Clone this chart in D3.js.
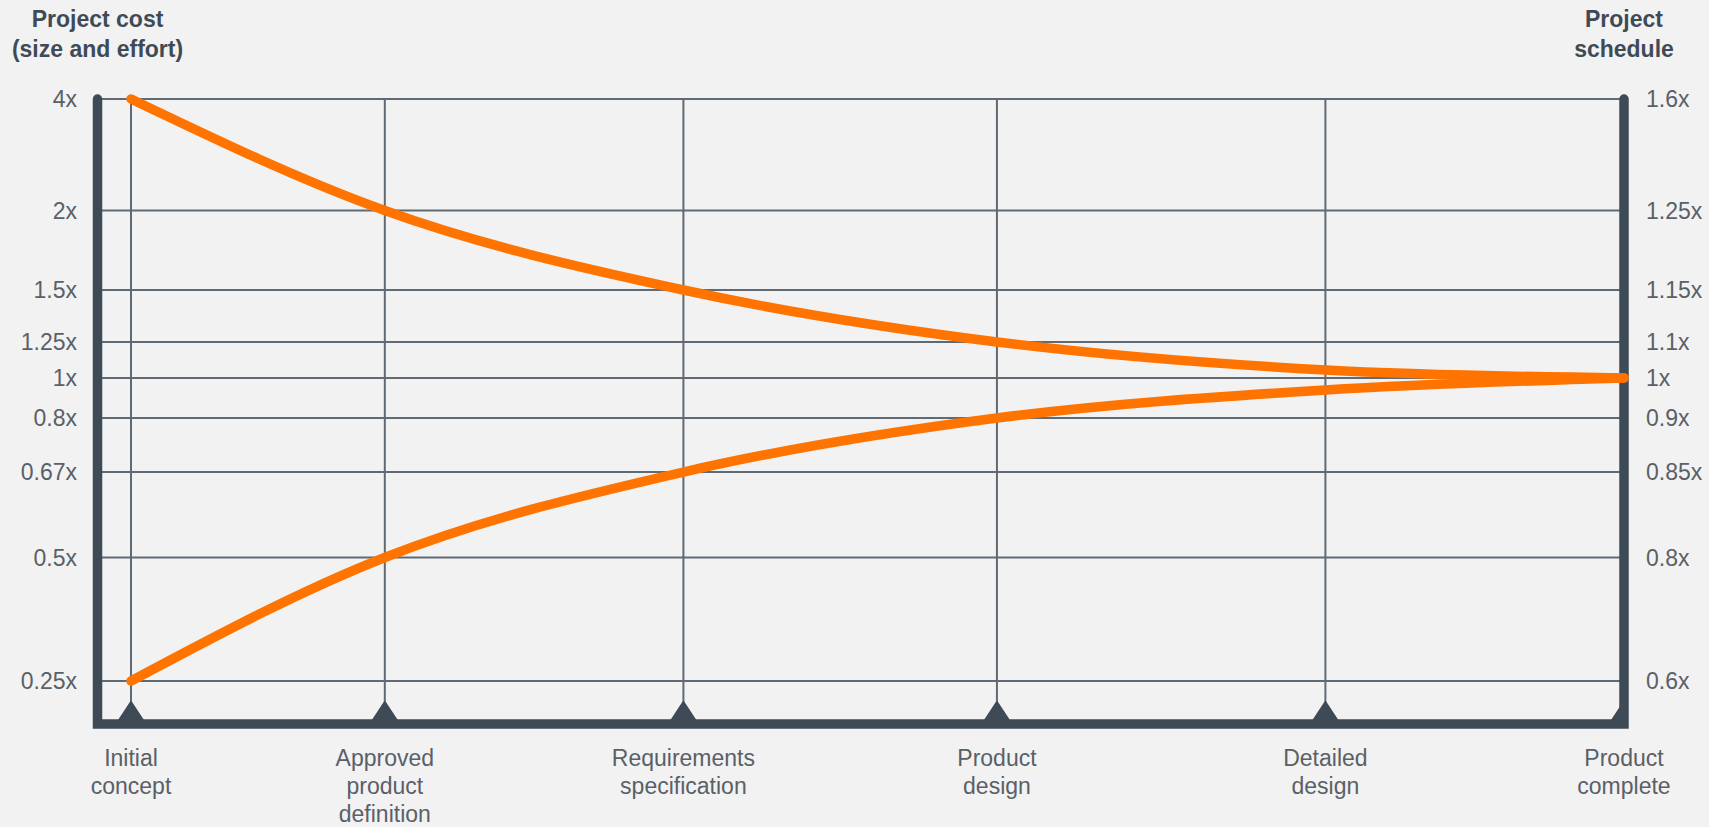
<!DOCTYPE html>
<html>
<head>
<meta charset="utf-8">
<script src="https://cdn.jsdelivr.net/npm/d3@7"></script>
<style>
  html, body { margin: 0; padding: 0; background: #f2f2f2; }
  svg { display: block; }
  text { font-family: "Liberation Sans", Arial, Helvetica, sans-serif; }
</style>
</head>
<body>
<svg width="1709" height="827"></svg>
<script>
// data
const milestones = [
  ["Initial", "concept"],
  ["Approved", "product", "definition"],
  ["Requirements", "specification"],
  ["Product", "design"],
  ["Detailed", "design"],
  ["Product", "complete"]
];
const milestoneTime = [0, 17, 37, 58, 80, 100]; // % of project timeline
const costTicks = [4, 2, 1.5, 1.25, 1, 0.8, 0.67, 0.5, 0.25];
const costTickLabels = ["4x", "2x", "1.5x", "1.25x", "1x", "0.8x", "0.67x", "0.5x", "0.25x"];
const scheduleTickLabels = ["1.6x", "1.25x", "1.15x", "1.1x", "1x", "0.9x", "0.85x", "0.8x", "0.6x"];
const upperBound = [4, 2, 1.5, 1.25, 1.056, 1];
const lowerBound = [0.25, 0.5, 0.67, 0.8, 0.94, 1];

// layout
const AXIS_LEFT = 97.5;
const AXIS_RIGHT = 1624;
const FIRST_X = 131;
const GRID_TOP = 99;
const GRID_BOTTOM = 681;
const BASE_Y = 724;
// the chart's rows are hand spaced, fraction of the grid height from the top
const ROW_OFFSETS = [0, 0.1916, 0.3282, 0.4175, 0.4794, 0.5481, 0.6409, 0.7878, 1];

const AXIS_COLOR = "#3e4b57";
const GRID_COLOR = "#5f6a74";
const TEXT_COLOR = "#5a6067";
const ORANGE = "#ff7300";

const svg = d3.select("svg");

const x = d3.scaleLinear().domain([0, 100]).range([FIRST_X, AXIS_RIGHT]);
const y = d3.scaleLinear()
  .domain(costTicks)
  .range(ROW_OFFSETS.map(f => GRID_TOP + f * (GRID_BOTTOM - GRID_TOP)));

// keep the markers inside the frame (the last one hides behind the right axis)
svg.append("defs")
  .append("clipPath")
  .attr("id", "inside")
  .append("rect")
  .attr("x", AXIS_LEFT)
  .attr("y", 0)
  .attr("width", AXIS_RIGHT - AXIS_LEFT)
  .attr("height", BASE_Y);

// horizontal grid
svg.append("g")
  .selectAll("line")
  .data(costTicks)
  .join("line")
  .attr("x1", AXIS_LEFT)
  .attr("x2", AXIS_RIGHT)
  .attr("y1", d => y(d))
  .attr("y2", d => y(d))
  .attr("stroke", GRID_COLOR)
  .attr("stroke-width", 2);

// vertical grid at milestones
svg.append("g")
  .selectAll("line")
  .data(milestoneTime.slice(0, -1))
  .join("line")
  .attr("x1", d => x(d))
  .attr("x2", d => x(d))
  .attr("y1", GRID_TOP)
  .attr("y2", BASE_Y)
  .attr("stroke", GRID_COLOR)
  .attr("stroke-width", 2);

// milestone markers
svg.append("g")
  .attr("clip-path", "url(#inside)")
  .selectAll("path")
  .data(milestoneTime)
  .join("path")
  .attr("d", d => `M${x(d) - 12.5},${BASE_Y - 3} L${x(d)},${BASE_Y - 22} L${x(d) + 12.5},${BASE_Y - 3} Z`)
  .attr("fill", AXIS_COLOR)
  .attr("stroke", AXIS_COLOR)
  .attr("stroke-width", 2)
  .attr("stroke-linejoin", "round");

// frame: left axis, base, right axis
svg.append("path")
  .attr("d", `M${AXIS_LEFT},${GRID_TOP} L${AXIS_LEFT},${BASE_Y} L${AXIS_RIGHT},${BASE_Y} L${AXIS_RIGHT},${GRID_TOP}`)
  .attr("fill", "none")
  .attr("stroke", AXIS_COLOR)
  .attr("stroke-width", 9.5)
  .attr("stroke-linecap", "round")
  .attr("stroke-linejoin", "miter");

// cone lines
const line = d3.line()
  .x((d, i) => x(milestoneTime[i]))
  .y(d => y(d))
  .curve(d3.curveMonotoneX);

svg.append("g")
  .selectAll("path")
  .data([upperBound, lowerBound])
  .join("path")
  .attr("d", line)
  .attr("fill", "none")
  .attr("stroke", ORANGE)
  .attr("stroke-width", 9.5)
  .attr("stroke-linecap", "round");

// left tick labels
svg.append("g")
  .selectAll("text")
  .data(costTicks)
  .join("text")
  .attr("x", 77)
  .attr("y", d => y(d))
  .attr("dy", "0.36em")
  .attr("text-anchor", "end")
  .attr("fill", TEXT_COLOR)
  .style("font-size", "23px")
  .text((d, i) => costTickLabels[i]);

// right tick labels
svg.append("g")
  .selectAll("text")
  .data(costTicks)
  .join("text")
  .attr("x", 1646)
  .attr("y", d => y(d))
  .attr("dy", "0.36em")
  .attr("text-anchor", "start")
  .attr("fill", TEXT_COLOR)
  .style("font-size", "23px")
  .text((d, i) => scheduleTickLabels[i]);

// milestone labels
const labels = svg.append("g")
  .selectAll("text")
  .data(milestones)
  .join("text")
  .attr("x", (d, i) => x(milestoneTime[i]))
  .attr("y", 766)
  .attr("text-anchor", "middle")
  .attr("fill", TEXT_COLOR)
  .style("font-size", "23px");

labels.selectAll("tspan")
  .data(d => d)
  .join("tspan")
  .attr("x", function() { return this.parentNode.getAttribute("x"); })
  .attr("dy", (d, i) => (i === 0 ? 0 : 28))
  .text(d => d);

// axis titles
function title(xPos, lines) {
  const t = svg.append("text")
    .attr("x", xPos)
    .attr("y", 27)
    .attr("text-anchor", "middle")
    .attr("fill", AXIS_COLOR)
    .style("font-size", "23px")
    .style("font-weight", "bold");
  t.selectAll("tspan")
    .data(lines)
    .join("tspan")
    .attr("x", xPos)
    .attr("dy", (d, i) => (i === 0 ? 0 : 29.5))
    .text(d => d);
}

title(AXIS_LEFT, ["Project cost", "(size and effort)"]);
title(AXIS_RIGHT, ["Project", "schedule"]);
</script>
</body>
</html>
